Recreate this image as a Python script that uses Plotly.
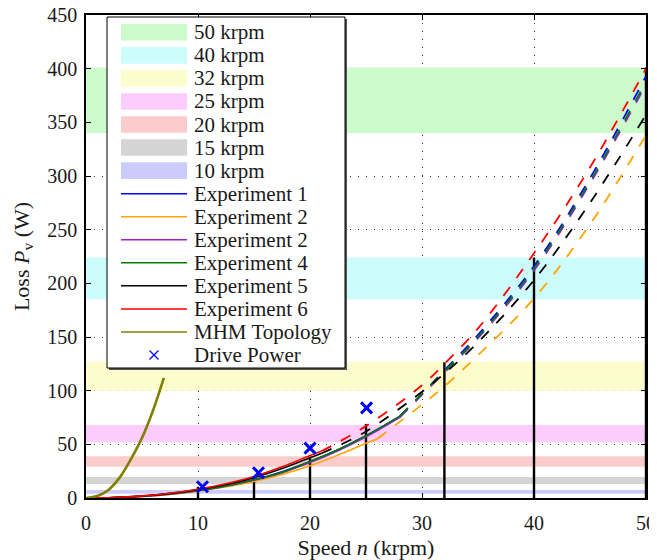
import plotly.graph_objects as go

# ---------------- data ----------------
band_names = ["50 krpm", "40 krpm", "32 krpm", "25 krpm", "20 krpm", "15 krpm", "10 krpm"]
band_low = [340, 185, 100, 52, 29, 13, 4]
band_high = [401, 224, 127, 68, 39, 19.5, 7.5]
band_colors = ["#ccfccc", "#ccfcfc", "#fcfccc", "#fcccfc", "#fccccc", "#d4d4d4", "#ccccfc"]

vline_speed = [10, 15, 20, 25, 32, 40, 50]
vline_top = [10.5, 18.6, 38.5, 69, 126.5, 224, 401]

exp_names = ["Experiment 1", "Experiment 2", "Experiment 2", "Experiment 4", "Experiment 5", "Experiment 6"]
exp_colors = ["#0000ff", "#ffa500", "#9a1fd6", "#007a00", "#000000", "#ff0000"]

speed_long = [0, 2.5, 5, 7.5, 10, 12.5, 15, 17.5, 20, 22.5, 25, 28]
speed_orange = [0, 2.5, 5, 7.5, 10, 12.5, 15, 17.5, 20, 22.5, 25, 26]
speed_short = [0, 2.5, 5, 7.5, 10, 12.5, 15, 17.5, 20, 21]

exp1_meas = [0, 0.4, 1.6, 3.8, 7.0, 11.5, 17.0, 24.5, 34.0, 45.0, 58.0, 76.0]
exp2_meas = [0, 0.3, 1.4, 3.4, 6.4, 10.5, 15.5, 22.0, 30.0, 40.0, 51.0, 55.0]
exp3_meas = [0, 0.4, 1.5, 3.6, 6.8, 11.0, 16.5, 23.5, 33.0, 44.0, 57.0, 75.0]
exp4_meas = [0, 0.4, 1.6, 3.8, 7.0, 11.3, 17.0, 24.0, 34.0, 45.0, 58.0, 76.0]
exp5_meas = [0, 0.5, 1.9, 4.3, 7.8, 12.5, 19.0, 27.5, 37.5, 41.5]
exp6_meas = [0, 0.5, 2.0, 4.5, 8.2, 13.2, 20.0, 29.0, 39.5, 43.5]

ext_speed_long = [28, 30, 32, 35, 40, 45, 50]
ext_speed_orange = [26, 30, 32, 35, 40, 45, 50]
ext_speed_short = [21, 25, 30, 32, 35, 40, 45, 50]

exp1_ext = [76, 97, 119, 152, 216, 298, 393]
exp2_ext = [55, 87, 104, 133, 186, 255, 338]
exp3_ext = [75, 96, 117, 149, 212, 293, 385]
exp4_ext = [76, 97, 118, 150, 214, 295, 388]
exp5_ext = [41.5, 62, 99, 116, 145, 203, 275, 357]
exp6_ext = [43.5, 67, 105, 125, 158, 228, 308, 400]

mhm_speed = [0, 1, 2, 3, 4, 5, 6, 6.95]
mhm_loss = [0, 1.8, 7.5, 19, 36, 56, 82, 112]

drive_speed = [10.4, 15.4, 20.0, 25.05]
drive_power = [10.5, 23.5, 46.5, 84]

x_ticks = [0, 10, 20, 30, 40, 50]
y_ticks = [0, 50, 100, 150, 200, 250, 300, 350, 400, 450]

legend_labels = band_names + exp_names + ["MHM Topology", "Drive Power"]

FONT = "Liberation Serif"
TXT = "#1a1a1a"

# page geometry (pixels); the page body adds an 8px offset
OFF = 8
PAGE_W, PAGE_H = 657, 560
L, R, T, B = 86, 646, 15, 498   # plot area in page pixels


def px2x(px):
    return (px - L) / (R - L)


def py2y(py):
    return (B - py) / (B - T)


fig = go.Figure()

# bands
for lo, hi, col in zip(band_low, band_high, band_colors):
    fig.add_shape(type="rect", xref="x", yref="y", x0=0, x1=50, y0=lo, y1=hi,
                  fillcolor=col, line=dict(width=0), layer="between")

# vertical lines
for s, t in zip(vline_speed, vline_top):
    fig.add_trace(go.Scatter(x=[s, s], y=[0, t], mode="lines", showlegend=False,
                             line=dict(color="black", width=2.4), hoverinfo="skip"))

meas = [(speed_long, exp1_meas), (speed_orange, exp2_meas), (speed_long, exp3_meas),
        (speed_long, exp4_meas), (speed_short, exp5_meas), (speed_short, exp6_meas)]
ext = [(ext_speed_long, exp1_ext), (ext_speed_orange, exp2_ext), (ext_speed_long, exp3_ext),
       (ext_speed_long, exp4_ext), (ext_speed_short, exp5_ext), (ext_speed_short, exp6_ext)]

for (xs, ys), col in zip(ext, exp_colors):
    fig.add_trace(go.Scatter(x=xs, y=ys, mode="lines", showlegend=False,
                             line=dict(color=col, width=1.8, dash="11px,11px", shape="spline")))

for (xs, ys), col, name in zip(meas, exp_colors, exp_names):
    fig.add_trace(go.Scatter(x=xs, y=ys, mode="lines", name=name,
                             line=dict(color=col, width=1.6, shape="spline")))

fig.add_trace(go.Scatter(x=mhm_speed, y=mhm_loss, mode="lines", name="MHM Topology",
                         line=dict(color="#808000", width=2.6, shape="spline")))

fig.add_trace(go.Scatter(x=drive_speed, y=drive_power, mode="markers", name="Drive Power",
                         marker=dict(symbol="x-thin", size=11, color="#0000ff",
                                     line=dict(color="#0000ff", width=3))))

# ---------------- legend (drawn box) ----------------
box_l, box_r, box_t, box_b = 107, 345, 17, 368
fig.add_shape(type="rect", xref="paper", yref="paper",
              x0=px2x(box_l + 2), x1=px2x(box_r + 2), y0=py2y(box_b + 2), y1=py2y(box_t + 2),
              fillcolor="#555555", line=dict(width=0), layer="above")
fig.add_shape(type="rect", xref="paper", yref="paper",
              x0=px2x(box_l), x1=px2x(box_r), y0=py2y(box_b), y1=py2y(box_t),
              fillcolor="white", line=dict(color="black", width=1), layer="above")

sw_l, sw_r = 121, 187
first_c, step = 32.3, 23.05
line_colors = exp_colors + ["#808000"]
for i, lab in enumerate(legend_labels):
    cy = first_c + step * i
    if i < len(band_names):
        fig.add_shape(type="rect", xref="paper", yref="paper",
                      x0=px2x(sw_l), x1=px2x(sw_r), y0=py2y(cy + 8.3), y1=py2y(cy - 8.3),
                      fillcolor=band_colors[i], line=dict(width=0), layer="above")
    elif i < len(band_names) + len(line_colors):
        c = line_colors[i - len(band_names)]
        fig.add_shape(type="line", xref="paper", yref="paper",
                      x0=px2x(sw_l), x1=px2x(sw_r), y0=py2y(cy), y1=py2y(cy),
                      line=dict(color=c, width=1.5), layer="above")
    else:
        mx, d = (sw_l + sw_r) / 2, 4.5
        for sgn in (1, -1):
            fig.add_shape(type="line", xref="paper", yref="paper",
                          x0=px2x(mx - d), x1=px2x(mx + d),
                          y0=py2y(cy - sgn * d), y1=py2y(cy + sgn * d),
                          line=dict(color="#0000ff", width=1.2), layer="above")
    fig.add_annotation(xref="paper", yref="paper", x=px2x(192), y=py2y(cy),
                       xanchor="left", yanchor="middle", text=lab, showarrow=False,
                       font=dict(family=FONT, size=21, color=TXT))

axis_common = dict(showline=True, linecolor="black", linewidth=1.5, mirror="ticks",
                   ticks="inside", ticklen=5, tickcolor="black", tickwidth=1,
                   showgrid=True, gridcolor="#333333", gridwidth=1, griddash="1px,7px",
                   zeroline=False, automargin=False, ticklabeloverflow="allow",
                   tickfont=dict(family=FONT, size=20, color=TXT))

fig.update_xaxes(range=[0, 50], tickvals=x_ticks, ticklabelstandoff=6,
                 title=dict(text="Speed <i>n</i> (krpm)", font=dict(family=FONT, size=22, color=TXT), standoff=10),
                 **axis_common)
fig.update_yaxes(range=[0, 450], tickvals=y_ticks, ticklabelstandoff=3,
                 title=dict(text="Loss <i>P</i><sub>v</sub> (W)", font=dict(family=FONT, size=22, color=TXT), standoff=12),
                 **axis_common)

fig.update_layout(
    width=PAGE_W - OFF, height=PAGE_H - OFF,
    margin=dict(l=L - OFF, r=PAGE_W - R, t=T - OFF, b=PAGE_H - B),
    plot_bgcolor="white", paper_bgcolor="white",
    showlegend=False,
)

fig.write_html("out.html")
